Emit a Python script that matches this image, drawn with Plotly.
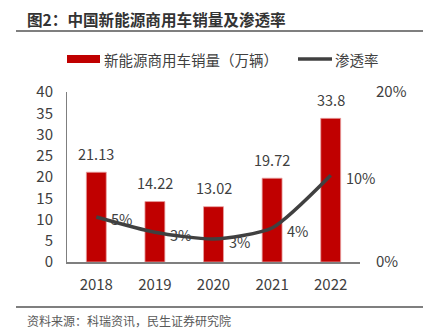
import plotly.graph_objects as go

years = ["2018", "2019", "2020", "2021", "2022"]
sales = [21.13, 14.22, 13.02, 19.72, 33.8]
rate = [0.053, 0.035, 0.027, 0.040, 0.102]
rate_labels = ["5%", "3%", "3%", "4%", "10%"]

FONT = "Noto Sans CJK SC"
TXT = "#404040"
W, H = 431, 333
L, R, T, B = 67, 71, 92, 71
PW, PH = W - L - R, H - T - B


def px(x):
    return (x - L) / PW


def py(y):
    return (H - B - y) / PH


fig = go.Figure()
fig.add_trace(go.Bar(
    x=years, y=sales, name="新能源商用车销量（万辆）",
    marker=dict(color="#C00000", line=dict(color="#E8A0A0", width=0.8)),
    width=0.34, showlegend=False,
))
fig.add_trace(go.Scatter(
    x=years, y=rate, name="渗透率", yaxis="y2", mode="lines",
    line=dict(color="#404040", width=3.5, shape="spline", smoothing=0.6),
    showlegend=False,
))

# category axis: annotations positioned by category index
for i, v in enumerate(sales):
    fig.add_annotation(x=i, y=v, xref="x", yref="y", text=f"{v:g}", showarrow=False,
                       yshift=19, font=dict(size=14.5, color=TXT, family=FONT))
for i, (v, t) in enumerate(zip(rate, rate_labels)):
    fig.add_annotation(x=i, y=v, xref="x", yref="y2", text=t, showarrow=False,
                       xanchor="left", xshift=13, yshift=-2,
                       font=dict(size=14.5, color=TXT, family=FONT))

fig.update_layout(
    width=W, height=H,
    margin=dict(l=L, r=R, t=T, b=B),
    paper_bgcolor="white", plot_bgcolor="white",
    font=dict(family=FONT, size=14, color=TXT),
    showlegend=False,
    xaxis=dict(type="category", range=[-0.5, len(years) - 0.5], showline=True,
               linecolor="#7F7F7F", linewidth=2, ticks="",
               tickfont=dict(size=15, color=TXT), showgrid=False, ticklabelstandoff=8),
    yaxis=dict(range=[0, 40], dtick=5, showline=True, linecolor="#7F7F7F", linewidth=1,
               showgrid=False, zeroline=False, ticks="", tickfont=dict(size=15, color=TXT),
               ticklabelstandoff=10),
    yaxis2=dict(range=[0, 0.2], dtick=0.2, tickformat=".0%", overlaying="y", side="right",
                showgrid=False, zeroline=False, showline=False, ticks="",
                tickfont=dict(size=15, color=TXT), ticklabelstandoff=15),
)

# legend (drawn manually)
fig.add_shape(type="rect", xref="paper", yref="paper", x0=px(67), x1=px(100),
              y0=py(63), y1=py(55), fillcolor="#C00000", line=dict(width=0))
fig.add_annotation(text="新能源商用车销量（万辆）", xref="paper", yref="paper", x=px(102), y=py(59),
                   xanchor="left", yanchor="middle", showarrow=False,
                   font=dict(size=14.5, color=TXT, family=FONT))
fig.add_shape(type="line", xref="paper", yref="paper", x0=px(298), x1=px(332),
              y0=py(59), y1=py(59), line=dict(color="#404040", width=3.5))
fig.add_annotation(text="渗透率", xref="paper", yref="paper", x=px(333), y=py(59),
                   xanchor="left", yanchor="middle", showarrow=False,
                   font=dict(size=14.5, color=TXT, family=FONT))

# title, source, rules
fig.add_annotation(text="<b>图2：中国新能源商用车销量及渗透率</b>", xref="paper", yref="paper",
                   x=px(25), y=py(19), xanchor="left", yanchor="middle",
                   showarrow=False, font=dict(size=15.6, color="#333333", family=FONT))
fig.add_annotation(text="资料来源：科瑞资讯，民生证券研究院", xref="paper", yref="paper",
                   x=px(25), y=py(320), xanchor="left", yanchor="middle",
                   showarrow=False, font=dict(size=12, color="#595959", family=FONT))
fig.add_shape(type="line", xref="paper", yref="paper",
              x0=px(16), x1=px(423), y0=py(31), y1=py(31),
              line=dict(color="#7F7F7F", width=2))
fig.add_shape(type="line", xref="paper", yref="paper",
              x0=px(16), x1=px(423), y0=py(307), y1=py(307),
              line=dict(color="#7F7F7F", width=2))

fig.write_html("out.html")
